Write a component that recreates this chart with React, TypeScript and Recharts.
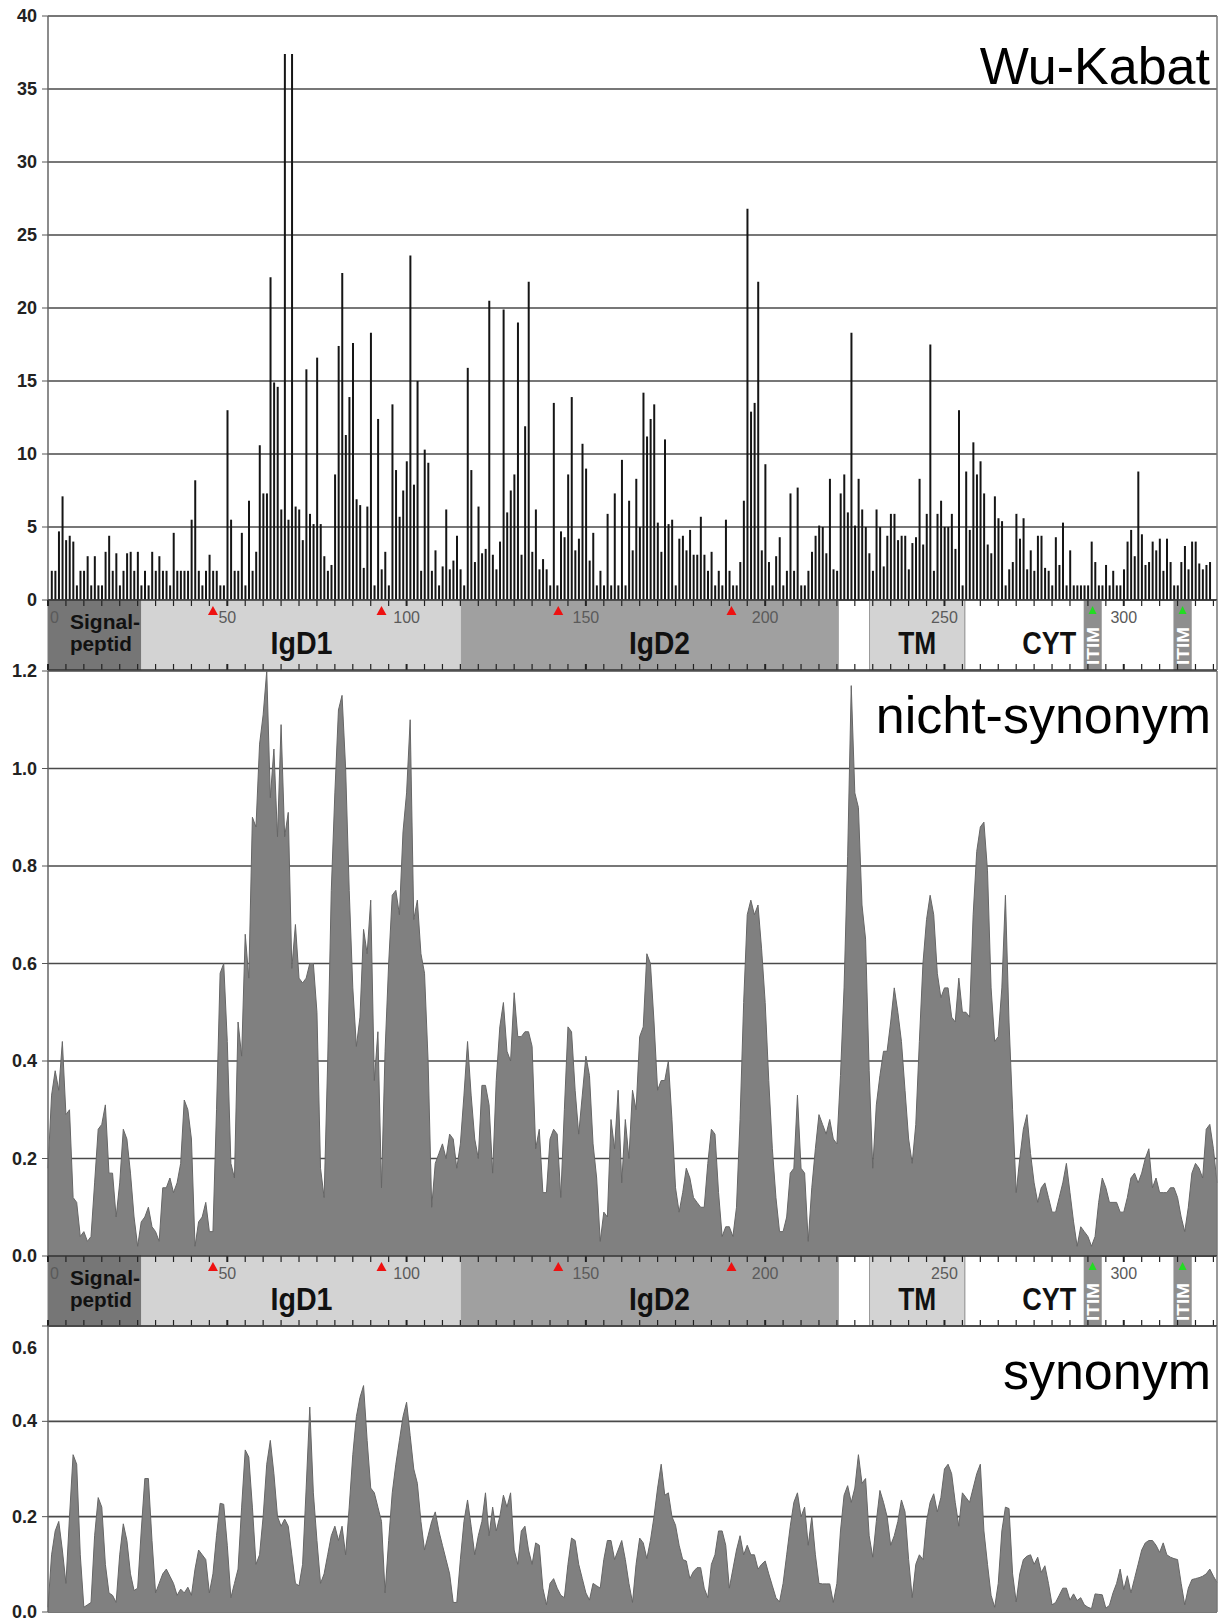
import React from 'react';
import {
  BarChart, Bar, AreaChart, Area, ComposedChart,
  XAxis, YAxis, CartesianGrid, ReferenceLine, ReferenceArea, ReferenceDot
} from 'recharts';

const W = 1223;
const X_MAX = 326;
const FONT = "'Liberation Sans', Arial, Helvetica, sans-serif";

// Wu-Kabat variability, residue 1..324
const wuKabat = [
  2, 2, 4.7, 7.1, 4.1, 4.4, 4, 1, 2, 2,
  3, 1, 3, 1, 1, 3.3, 4.4, 2, 3.2, 1,
  2, 3.2, 3.3, 2, 3.3, 1, 2, 1, 3.3, 2,
  3, 2, 2, 1, 4.6, 2, 2, 2, 2, 5.5,
  8.2, 2, 1, 2, 3.1, 2, 2, 1, 1, 13,
  5.5, 2, 2, 4.6, 1, 6.8, 2, 3.3, 10.6, 7.3,
  7.3, 22.1, 14.9, 14.6, 6.2, 37.4, 5.5, 37.4, 6.4, 6.2,
  4.1, 15.8, 5.9, 5.2, 16.6, 5.2, 3, 2, 2.4, 8.6,
  17.4, 22.4, 11.3, 13.9, 17.6, 6.9, 6.5, 2.2, 6.4, 18.3,
  1, 12.4, 2.1, 3.3, 1, 13.4, 8.9, 5.7, 7.5, 9.5,
  23.6, 7.9, 15, 2, 10.3, 9.4, 2, 3.4, 1, 2.3,
  6.2, 2.1, 2.7, 4.4, 2.1, 1, 15.9, 8.9, 2.6, 6.4,
  3.2, 3.5, 20.5, 3.1, 2.1, 4, 19.9, 6, 7.5, 8.6,
  19, 3.1, 11.9, 21.8, 3.3, 6.2, 2.1, 2.8, 2.1, 1,
  13.5, 1, 4.7, 4.3, 8.6, 13.9, 3.4, 4.2, 10.7, 9,
  2.7, 4.6, 1, 2, 1, 5.9, 1, 7.3, 1, 9.6,
  1, 6.8, 3.4, 8.3, 5, 14.2, 11.2, 12.4, 13.4, 5.3,
  3.3, 11, 5.2, 5.5, 1, 4.2, 4.4, 3.4, 4.8, 3.1,
  3.1, 5.7, 3.1, 2, 3.3, 1, 2, 1, 5.5, 2,
  1, 1, 2.6, 6.8, 26.8, 12.9, 13.5, 21.8, 3.4, 9.3,
  2.6, 1, 3, 4.3, 1, 2, 7.3, 2, 7.7, 1,
  1, 2, 3.3, 4.4, 5.1, 5, 3.2, 8.3, 2.1, 2,
  7.3, 8.6, 6, 18.3, 5.1, 8.3, 6.2, 5, 3.2, 2,
  6.2, 5, 2.3, 4.4, 5.9, 5.9, 4.1, 4.4, 4.4, 2.1,
  3.9, 4.3, 8.3, 3.8, 5.9, 17.5, 2, 5.9, 6.8, 5,
  5, 5.9, 3.5, 13, 1, 8.8, 4.8, 10.8, 8.6, 9.5,
  7.3, 3.8, 3.2, 7.1, 5.6, 5.4, 1, 2.1, 2.6, 5.9,
  4.2, 5.6, 2.1, 3.4, 2, 4.4, 4.4, 2.2, 2, 1,
  4.3, 2.4, 5.3, 1, 3.4, 1, 1, 1, 1, 1,
  4, 2.6, 1, 1, 2.4, 1, 2, 1, 1, 2.1,
  4, 4.8, 3, 8.8, 4.5, 2.4, 2.6, 4, 3.4, 4.2,
  2, 4.2, 2.6, 1, 1, 2.6, 3.7, 2.1, 4, 4,
  2.5, 2.1, 2.4, 2.6,
];

// nicht-synonym rate, residue 0..326
const nichtSynonym = [
  0.18, 0.33, 0.38, 0.34, 0.44, 0.29, 0.30, 0.12, 0.11, 0.04,
  0.05, 0.03, 0.04, 0.15, 0.26, 0.27, 0.31, 0.17, 0.17, 0.08,
  0.15, 0.26, 0.24, 0.17, 0.08, 0.02, 0.07, 0.08, 0.10, 0.06,
  0.05, 0.03, 0.14, 0.14, 0.16, 0.13, 0.15, 0.19, 0.32, 0.30,
  0.24, 0.02, 0.07, 0.08, 0.11, 0.05, 0.05, 0.30, 0.58, 0.60,
  0.44, 0.19, 0.16, 0.48, 0.41, 0.66, 0.57, 0.90, 0.88, 1.05,
  1.11, 1.20, 0.94, 1.04, 0.86, 1.09, 0.86, 0.91, 0.59, 0.68,
  0.57, 0.56, 0.57, 0.60, 0.60, 0.50, 0.18, 0.12, 0.40, 0.75,
  0.95, 1.12, 1.15, 1.00, 0.75, 0.55, 0.43, 0.49, 0.67, 0.62,
  0.73, 0.36, 0.46, 0.14, 0.42, 0.60, 0.74, 0.75, 0.70, 0.87,
  0.95, 1.10, 0.69, 0.73, 0.62, 0.58, 0.40, 0.10, 0.19, 0.21,
  0.23, 0.20, 0.25, 0.24, 0.18, 0.23, 0.33, 0.44, 0.33, 0.24,
  0.20, 0.35, 0.35, 0.31, 0.17, 0.36, 0.47, 0.52, 0.42, 0.40,
  0.54, 0.45, 0.45, 0.46, 0.46, 0.43, 0.22, 0.26, 0.13, 0.13,
  0.24, 0.26, 0.25, 0.12, 0.30, 0.47, 0.46, 0.34, 0.25, 0.33,
  0.41, 0.37, 0.23, 0.16, 0.03, 0.09, 0.08, 0.28, 0.22, 0.34,
  0.15, 0.28, 0.20, 0.34, 0.30, 0.45, 0.47, 0.62, 0.60, 0.48,
  0.34, 0.36, 0.36, 0.40, 0.28, 0.14, 0.09, 0.13, 0.18, 0.16,
  0.12, 0.11, 0.10, 0.10, 0.19, 0.26, 0.25, 0.13, 0.04, 0.06,
  0.06, 0.04, 0.10, 0.28, 0.52, 0.70, 0.73, 0.70, 0.72, 0.63,
  0.52, 0.36, 0.22, 0.12, 0.05, 0.05, 0.08, 0.17, 0.18, 0.33,
  0.18, 0.17, 0.03, 0.14, 0.22, 0.29, 0.27, 0.25, 0.28, 0.24,
  0.23, 0.37, 0.55, 0.82, 1.17, 0.95, 0.92, 0.72, 0.65, 0.38,
  0.18, 0.31, 0.37, 0.42, 0.42, 0.48, 0.55, 0.50, 0.44, 0.34,
  0.24, 0.19, 0.27, 0.44, 0.60, 0.69, 0.74, 0.70, 0.58, 0.53,
  0.55, 0.55, 0.49, 0.48, 0.57, 0.50, 0.50, 0.49, 0.70, 0.83,
  0.88, 0.89, 0.79, 0.55, 0.44, 0.45, 0.55, 0.74, 0.48, 0.30,
  0.13, 0.20, 0.26, 0.29, 0.21, 0.15, 0.11, 0.14, 0.15, 0.12,
  0.09, 0.09, 0.12, 0.15, 0.19, 0.13, 0.07, 0.02, 0.06, 0.05,
  0.04, 0.02, 0.04, 0.11, 0.16, 0.14, 0.11, 0.11, 0.11, 0.09,
  0.09, 0.12, 0.16, 0.17, 0.15, 0.17, 0.20, 0.22, 0.14, 0.16,
  0.13, 0.13, 0.13, 0.14, 0.14, 0.12, 0.08, 0.05, 0.10, 0.17,
  0.19, 0.18, 0.16, 0.26, 0.27, 0.22, 0.15,
];

// synonym rate, residue 0..326
const synonym = [
  0.01, 0.12, 0.17, 0.19, 0.13, 0.06, 0.20, 0.33, 0.31, 0.12,
  0.01, 0.015, 0.02, 0.16, 0.24, 0.22, 0.10, 0.04, 0.035, 0.02,
  0.12, 0.185, 0.15, 0.08, 0.045, 0.05, 0.17, 0.28, 0.28, 0.15,
  0.04, 0.06, 0.08, 0.09, 0.075, 0.06, 0.035, 0.048, 0.04, 0.052,
  0.035, 0.09, 0.13, 0.12, 0.11, 0.04, 0.08, 0.16, 0.228, 0.226,
  0.14, 0.03, 0.06, 0.09, 0.22, 0.34, 0.325, 0.22, 0.10, 0.12,
  0.20, 0.31, 0.36, 0.29, 0.20, 0.18, 0.195, 0.18, 0.12, 0.06,
  0.055, 0.10, 0.26, 0.43, 0.25, 0.15, 0.06, 0.08, 0.12, 0.16,
  0.18, 0.15, 0.18, 0.12, 0.22, 0.33, 0.41, 0.45, 0.475, 0.36,
  0.26, 0.25, 0.22, 0.19, 0.04, 0.15, 0.25, 0.31, 0.36, 0.41,
  0.44, 0.37, 0.30, 0.27, 0.19, 0.13, 0.16, 0.19, 0.21, 0.17,
  0.14, 0.11, 0.08, 0.02, 0.02, 0.11, 0.19, 0.235, 0.18, 0.12,
  0.16, 0.19, 0.25, 0.16, 0.22, 0.17, 0.20, 0.245, 0.22, 0.25,
  0.13, 0.10, 0.17, 0.18, 0.13, 0.10, 0.145, 0.14, 0.05, 0.015,
  0.06, 0.07, 0.05, 0.035, 0.03, 0.10, 0.155, 0.15, 0.10, 0.07,
  0.04, 0.025, 0.06, 0.055, 0.05, 0.11, 0.15, 0.15, 0.11, 0.13,
  0.15, 0.11, 0.06, 0.02, 0.10, 0.155, 0.145, 0.112, 0.15, 0.20,
  0.26, 0.31, 0.245, 0.25, 0.20, 0.182, 0.14, 0.11, 0.107, 0.07,
  0.085, 0.093, 0.093, 0.05, 0.03, 0.10, 0.12, 0.17, 0.17, 0.14,
  0.05, 0.09, 0.13, 0.16, 0.12, 0.14, 0.12, 0.12, 0.09, 0.10,
  0.107, 0.08, 0.055, 0.03, 0.021, 0.06, 0.12, 0.18, 0.23, 0.25,
  0.20, 0.22, 0.14, 0.20, 0.12, 0.06, 0.059, 0.059, 0.059, 0.02,
  0.06, 0.17, 0.245, 0.265, 0.23, 0.26, 0.33, 0.27, 0.28, 0.16,
  0.115, 0.19, 0.255, 0.23, 0.20, 0.14, 0.16, 0.19, 0.235, 0.21,
  0.11, 0.03, 0.10, 0.12, 0.11, 0.19, 0.23, 0.248, 0.21, 0.24,
  0.30, 0.31, 0.29, 0.23, 0.18, 0.25, 0.24, 0.23, 0.26, 0.29,
  0.31, 0.17, 0.10, 0.035, 0.01, 0.06, 0.17, 0.22, 0.217, 0.08,
  0.021, 0.08, 0.11, 0.117, 0.12, 0.10, 0.115, 0.083, 0.097, 0.06,
  0.015, 0.02, 0.035, 0.05, 0.05, 0.025, 0.038, 0.024, 0.03, 0.015,
  0.01, 0.007, 0.038, 0.037, 0.036, 0.008, 0.014, 0.04, 0.06, 0.09,
  0.047, 0.076, 0.04, 0.07, 0.10, 0.13, 0.145, 0.15, 0.15, 0.14,
  0.125, 0.145, 0.12, 0.115, 0.112, 0.11, 0.06, 0.015, 0.05, 0.068,
  0.07, 0.072, 0.075, 0.08, 0.09, 0.075, 0.062,
];

const wuTicks = [0, 5, 10, 15, 20, 25, 30, 35, 40];
const nsTicks = [0, 0.2, 0.4, 0.6, 0.8, 1.0, 1.2];
const synTicks = [0, 0.2, 0.4, 0.6];
const posLabels = [0, 50, 100, 150, 200, 250, 300];
const posTicks = Array.from({ length: 66 }, (_, i) => i * 5);

// protein domains (residue ranges)
const domains = [
  { name: 'Signal-peptid', start: 0, end: 26.1 },
  { name: 'IgD1', start: 26.1, end: 115.3 },
  { name: 'IgD2', start: 115.3, end: 220.4 },
  { name: 'TM', start: 229.1, end: 255.7 },
  { name: 'CYT', start: 255.7, end: 289 },
  { name: 'ITIM', start: 289, end: 293.7 },
  { name: 'ITIM', start: 314, end: 318.8 },
];
const redMarks = [46, 93, 142.3, 190.6];
const greenMarks = [291.3, 316.4];

const domainFill: Record<string, string> = {
  'Signal-peptid': '#767676',
  IgD1: '#d3d3d3',
  IgD2: '#a0a0a0',
  TM: '#d3d3d3',
  CYT: '#ffffff',
  ITIM: '#8e8e8e',
};

const wuData = wuKabat.map((v, i) => ({ pos: i + 1, v }));
const nsData = nichtSynonym.map((v, i) => ({ pos: i, v }));
const synData = synonym.map((v, i) => ({ pos: i, v }));

const makeYTick = (fmt: (v: number) => string, shiftVal?: number, shift = 0) => (props: any) => {
  const { y, payload } = props;
  const dy = payload.value === shiftVal ? shift : 0;
  return (
    <text x={37} y={y + 6 + dy} textAnchor="end" fontFamily={FONT} fontWeight={700} fontSize={18} fill="#222">
      {fmt(payload.value)}
    </text>
  );
};

const gridProps = { vertical: false, stroke: '#4a4a4a', strokeWidth: 1.6 };
const yAxisProps = {
  width: 48, tickSize: 6, interval: 0 as const,
  tickLine: { stroke: '#555' }, axisLine: { stroke: '#666', strokeWidth: 1.5 },
};

const renderDomain = (name: string) => (p: any) => {
  const { x, y, width, height } = p;
  const fill = domainFill[name];
  const cx = x + width / 2;
  const txt = { fontFamily: FONT, fontWeight: 700, fill: '#111', lengthAdjust: 'spacingAndGlyphs' as const };
  return (
    <g>
      <rect x={x} y={y} width={width} height={height} fill={fill}
        stroke={name === 'TM' || name === 'CYT' ? '#9a9a9a' : fill} strokeWidth={1} />
      {name === 'Signal-peptid' && (
        <g>
          <text x={x + 22} y={y + 29} fontSize={21} textLength={70} {...txt}>Signal-</text>
          <text x={x + 22} y={y + 51} fontSize={21} textLength={62} {...txt}>peptid</text>
        </g>
      )}
      {name === 'IgD1' && (
        <text x={cx - 31} y={y + 54} fontSize={32} textLength={62} {...txt}>IgD1</text>
      )}
      {name === 'IgD2' && (
        <text x={cx - 21} y={y + 54} fontSize={32} textLength={61} {...txt}>IgD2</text>
      )}
      {name === 'TM' && (
        <text x={cx - 19} y={y + 54} fontSize={32} textLength={38} {...txt}>TM</text>
      )}
      {name === 'CYT' && (
        <text x={x + width - 62} y={y + 54} fontSize={32} textLength={54} {...txt}>CYT</text>
      )}
      {name === 'ITIM' && (
        <text transform={`translate(${cx + 6},${y + 65}) rotate(-90)`}
          fontSize={17} fontFamily={FONT} fontWeight={700} fill="#ffffff"
          textLength={38} lengthAdjust="spacingAndGlyphs">ITIM</text>
      )}
    </g>
  );
};

const triangle = (color: string, w: number, top: number, bottom: number) => (p: any) => {
  const { cx, cy } = p;
  return (
    <polygon points={`${cx - w / 2},${cy + bottom} ${cx + w / 2},${cy + bottom} ${cx},${cy + top}`} fill={color} />
  );
};

const posLabelShape = (v: number) => (p: any) => {
  const { cx, cy } = p;
  const first = v === 0;
  return (
    <text x={first ? cx + 2 : cx} y={cy + 23} textAnchor={first ? 'start' : 'middle'}
      fontFamily={FONT} fontSize={16} fill="#5a5a5a">{v}</text>
  );
};

const STRIP_PAD = 30;
const STRIP_H = 70;
const TICK = 6 / STRIP_H;

function DomainStrip({ top }: { top: number }) {
  return (
    <div style={{ position: 'absolute', left: 0, top: top - STRIP_PAD, width: W, height: STRIP_H + 2 * STRIP_PAD }}>
      <ComposedChart width={W} height={STRIP_H + 2 * STRIP_PAD} data={wuData}
        margin={{ top: STRIP_PAD, right: 6, bottom: STRIP_PAD, left: 48 }}>
        <XAxis type="number" dataKey="pos" domain={[0, X_MAX]} allowDataOverflow hide />
        <YAxis type="number" domain={[0, 1]} allowDataOverflow hide />
        {domains.map((d, i) => (
          <ReferenceArea key={i} x1={d.start} x2={d.end} y1={0} y2={1}
            fillOpacity={1} ifOverflow="visible" shape={renderDomain(d.name)} />
        ))}
        {posTicks.map((t) => (
          <ReferenceLine key={`tt${t}`} ifOverflow="visible" stroke="#222" strokeWidth={t % 50 === 0 ? 2 : 1.2}
            segment={[{ x: t, y: 1 }, { x: t, y: 1 - TICK }]} />
        ))}
        {posTicks.map((t) => (
          <ReferenceLine key={`tb${t}`} ifOverflow="visible" stroke="#222" strokeWidth={t % 50 === 0 ? 2 : 1.2}
            segment={[{ x: t, y: 0 }, { x: t, y: TICK }]} />
        ))}
        <ReferenceLine y={1} stroke="#333" strokeWidth={1.5} ifOverflow="visible" />
        <ReferenceLine y={0} stroke="#333" strokeWidth={1.5} ifOverflow="visible" />
        <ReferenceLine x={X_MAX} stroke="#777" strokeWidth={1.5} ifOverflow="visible" />
        {redMarks.map((m, i) => (
          <ReferenceDot key={`r${i}`} x={m} y={1} r={5} ifOverflow="visible"
            shape={triangle('#ee1111', 10, 6, 15)} />
        ))}
        {greenMarks.map((m, i) => (
          <ReferenceDot key={`g${i}`} x={m} y={1} r={4} ifOverflow="visible"
            shape={triangle('#22dd22', 8, 6, 14)} />
        ))}
        {posLabels.map((v) => (
          <ReferenceDot key={`l${v}`} x={v} y={1} r={1} ifOverflow="visible" shape={posLabelShape(v)} />
        ))}
      </ComposedChart>
    </div>
  );
}

export default function App() {
  const titleStyle = { fontFamily: FONT, fontSize: 52, fill: '#000' };
  return (
    <div style={{ position: 'absolute', left: 0, top: 0, width: W, height: 1622, background: '#fff', overflow: 'hidden' }}>
      <div style={{ position: 'absolute', left: 0, top: 0 }}>
        <BarChart width={W} height={620} data={wuData} margin={{ top: 16, right: 6, bottom: 20, left: 0 }}>
          <CartesianGrid {...gridProps} />
          <XAxis type="number" dataKey="pos" domain={[0, X_MAX]} hide />
          <YAxis domain={[0, 40]} ticks={wuTicks} tick={makeYTick((v) => String(v))} {...yAxisProps} />
          <ReferenceLine x={X_MAX} stroke="#777" strokeWidth={1.5} />
          <Bar dataKey="v" fill="#151515" barSize={2} isAnimationActive={false} />
        </BarChart>
      </div>

      <DomainStrip top={600} />

      <div style={{ position: 'absolute', left: 0, top: 655 }}>
        <AreaChart width={W} height={621} data={nsData} margin={{ top: 16, right: 6, bottom: 20, left: 0 }}>
          <CartesianGrid {...gridProps} />
          <XAxis type="number" dataKey="pos" domain={[0, X_MAX]} hide />
          <YAxis domain={[0, 1.2]} ticks={nsTicks} tick={makeYTick((v) => v.toFixed(1))} {...yAxisProps} />
          <ReferenceLine x={X_MAX} stroke="#777" strokeWidth={1.5} />
          <Area type="linear" dataKey="v" fill="#808080" fillOpacity={1} stroke="#666" strokeWidth={1}
            dot={false} activeDot={false} isAnimationActive={false} />
        </AreaChart>
      </div>

      <DomainStrip top={1256} />

      <div style={{ position: 'absolute', left: 0, top: 1310 }}>
        <AreaChart width={W} height={312} data={synData} margin={{ top: 16, right: 6, bottom: 10, left: 0 }}>
          <CartesianGrid {...gridProps} />
          <XAxis type="number" dataKey="pos" domain={[0, X_MAX]} hide />
          <YAxis domain={[0, 0.6]} ticks={synTicks} tick={makeYTick((v) => v.toFixed(1), 0.6, 22)} {...yAxisProps} />
          <ReferenceLine x={X_MAX} stroke="#777" strokeWidth={1.5} />
          <Area type="linear" dataKey="v" fill="#808080" fillOpacity={1} stroke="#666" strokeWidth={1}
            dot={false} activeDot={false} isAnimationActive={false} />
        </AreaChart>
      </div>

      <svg width={W} height={1622} style={{ position: 'absolute', left: 0, top: 0, pointerEvents: 'none' }}>
        <text x={1210} y={84} textAnchor="end" {...titleStyle}>Wu-Kabat</text>
        <text x={1211} y={733} textAnchor="end" {...titleStyle}>nicht-synonym</text>
        <text x={1211} y={1389} textAnchor="end" {...titleStyle}>synonym</text>
      </svg>
    </div>
  );
}
